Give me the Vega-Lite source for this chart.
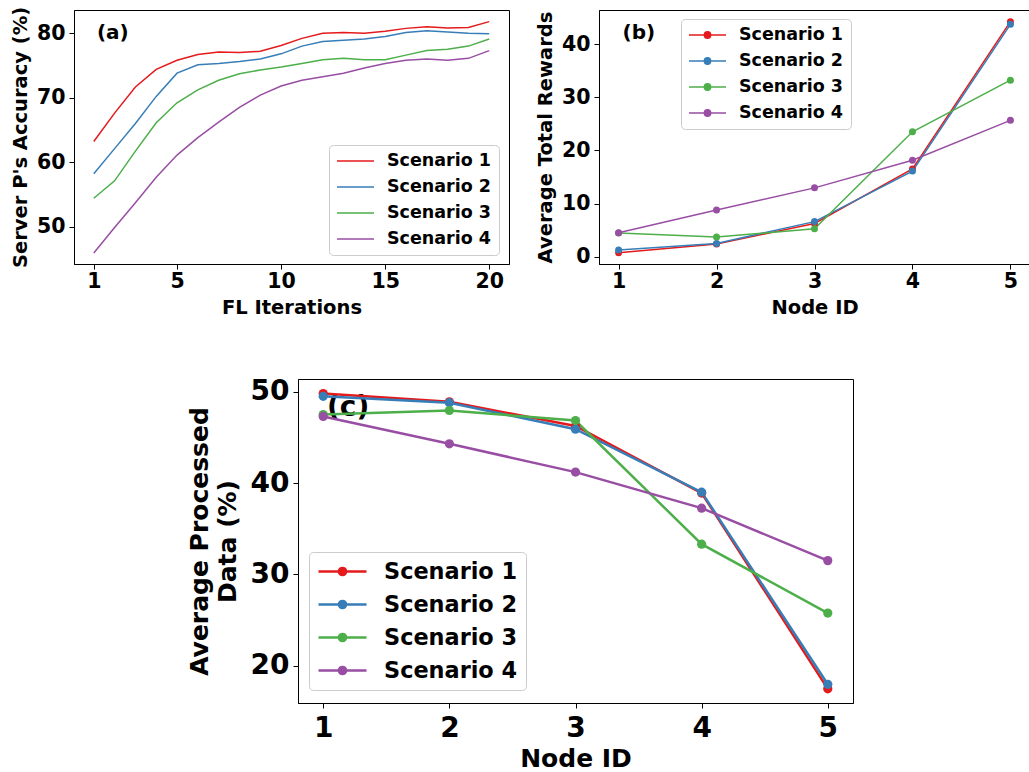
{
  "$schema": "https://vega.github.io/schema/vega-lite/v6.json",
  "background": "white",
  "padding": {"left": 9, "top": 5, "right": 0, "bottom": 0},
  "config": {
    "font": "DejaVu Sans",
    "view": {"stroke": "black", "strokeWidth": 1},
    "axis": {"domainColor": "black", "tickColor": "black", "labelColor": "black", "titleColor": "black", "labelFont": "DejaVu Sans", "titleFont": "DejaVu Sans", "labelFontWeight": "bold", "titleFontWeight": "bold", "grid": false, "tickSize": 5, "labelPadding": 4, "domainWidth": 1, "tickWidth": 1, "labelFlush": false, "labelOverlap": false},
    "axisX": {"labelPadding": 2},
    "legend": {"labelFont": "DejaVu Sans", "labelFontWeight": "bold", "labelColor": "black", "fillColor": "white", "strokeColor": "#cccccc", "cornerRadius": 4, "title": null}
  },
  "datasets": {
    "acc": [
      {"iteration": 1, "scenario": "Scenario 1", "accuracy": 63.2},
      {"iteration": 2, "scenario": "Scenario 1", "accuracy": 67.6},
      {"iteration": 3, "scenario": "Scenario 1", "accuracy": 71.65},
      {"iteration": 4, "scenario": "Scenario 1", "accuracy": 74.4},
      {"iteration": 5, "scenario": "Scenario 1", "accuracy": 75.8},
      {"iteration": 6, "scenario": "Scenario 1", "accuracy": 76.7},
      {"iteration": 7, "scenario": "Scenario 1", "accuracy": 77.1},
      {"iteration": 8, "scenario": "Scenario 1", "accuracy": 77.0},
      {"iteration": 9, "scenario": "Scenario 1", "accuracy": 77.2},
      {"iteration": 10, "scenario": "Scenario 1", "accuracy": 78.1},
      {"iteration": 11, "scenario": "Scenario 1", "accuracy": 79.2},
      {"iteration": 12, "scenario": "Scenario 1", "accuracy": 80.0},
      {"iteration": 13, "scenario": "Scenario 1", "accuracy": 80.1},
      {"iteration": 14, "scenario": "Scenario 1", "accuracy": 80.0},
      {"iteration": 15, "scenario": "Scenario 1", "accuracy": 80.3},
      {"iteration": 16, "scenario": "Scenario 1", "accuracy": 80.75},
      {"iteration": 17, "scenario": "Scenario 1", "accuracy": 81.0},
      {"iteration": 18, "scenario": "Scenario 1", "accuracy": 80.8},
      {"iteration": 19, "scenario": "Scenario 1", "accuracy": 80.9},
      {"iteration": 20, "scenario": "Scenario 1", "accuracy": 81.8},
      {"iteration": 1, "scenario": "Scenario 2", "accuracy": 58.2},
      {"iteration": 2, "scenario": "Scenario 2", "accuracy": 62.1},
      {"iteration": 3, "scenario": "Scenario 2", "accuracy": 66.0},
      {"iteration": 4, "scenario": "Scenario 2", "accuracy": 70.2},
      {"iteration": 5, "scenario": "Scenario 2", "accuracy": 73.8},
      {"iteration": 6, "scenario": "Scenario 2", "accuracy": 75.1},
      {"iteration": 7, "scenario": "Scenario 2", "accuracy": 75.3},
      {"iteration": 8, "scenario": "Scenario 2", "accuracy": 75.6},
      {"iteration": 9, "scenario": "Scenario 2", "accuracy": 76.0},
      {"iteration": 10, "scenario": "Scenario 2", "accuracy": 76.8},
      {"iteration": 11, "scenario": "Scenario 2", "accuracy": 78.0},
      {"iteration": 12, "scenario": "Scenario 2", "accuracy": 78.7},
      {"iteration": 13, "scenario": "Scenario 2", "accuracy": 78.9},
      {"iteration": 14, "scenario": "Scenario 2", "accuracy": 79.1},
      {"iteration": 15, "scenario": "Scenario 2", "accuracy": 79.5},
      {"iteration": 16, "scenario": "Scenario 2", "accuracy": 80.1},
      {"iteration": 17, "scenario": "Scenario 2", "accuracy": 80.4},
      {"iteration": 18, "scenario": "Scenario 2", "accuracy": 80.2},
      {"iteration": 19, "scenario": "Scenario 2", "accuracy": 80.0},
      {"iteration": 20, "scenario": "Scenario 2", "accuracy": 79.9},
      {"iteration": 1, "scenario": "Scenario 3", "accuracy": 54.4},
      {"iteration": 2, "scenario": "Scenario 3", "accuracy": 57.1},
      {"iteration": 3, "scenario": "Scenario 3", "accuracy": 61.7},
      {"iteration": 4, "scenario": "Scenario 3", "accuracy": 66.1},
      {"iteration": 5, "scenario": "Scenario 3", "accuracy": 69.2},
      {"iteration": 6, "scenario": "Scenario 3", "accuracy": 71.2},
      {"iteration": 7, "scenario": "Scenario 3", "accuracy": 72.7},
      {"iteration": 8, "scenario": "Scenario 3", "accuracy": 73.7},
      {"iteration": 9, "scenario": "Scenario 3", "accuracy": 74.3},
      {"iteration": 10, "scenario": "Scenario 3", "accuracy": 74.75},
      {"iteration": 11, "scenario": "Scenario 3", "accuracy": 75.3},
      {"iteration": 12, "scenario": "Scenario 3", "accuracy": 75.9},
      {"iteration": 13, "scenario": "Scenario 3", "accuracy": 76.1},
      {"iteration": 14, "scenario": "Scenario 3", "accuracy": 75.9},
      {"iteration": 15, "scenario": "Scenario 3", "accuracy": 75.9},
      {"iteration": 16, "scenario": "Scenario 3", "accuracy": 76.6},
      {"iteration": 17, "scenario": "Scenario 3", "accuracy": 77.3},
      {"iteration": 18, "scenario": "Scenario 3", "accuracy": 77.5},
      {"iteration": 19, "scenario": "Scenario 3", "accuracy": 78.0},
      {"iteration": 20, "scenario": "Scenario 3", "accuracy": 79.1},
      {"iteration": 1, "scenario": "Scenario 4", "accuracy": 45.9},
      {"iteration": 2, "scenario": "Scenario 4", "accuracy": 49.85},
      {"iteration": 3, "scenario": "Scenario 4", "accuracy": 53.7},
      {"iteration": 4, "scenario": "Scenario 4", "accuracy": 57.65},
      {"iteration": 5, "scenario": "Scenario 4", "accuracy": 61.1},
      {"iteration": 6, "scenario": "Scenario 4", "accuracy": 63.8},
      {"iteration": 7, "scenario": "Scenario 4", "accuracy": 66.2},
      {"iteration": 8, "scenario": "Scenario 4", "accuracy": 68.5},
      {"iteration": 9, "scenario": "Scenario 4", "accuracy": 70.4},
      {"iteration": 10, "scenario": "Scenario 4", "accuracy": 71.8},
      {"iteration": 11, "scenario": "Scenario 4", "accuracy": 72.7},
      {"iteration": 12, "scenario": "Scenario 4", "accuracy": 73.25},
      {"iteration": 13, "scenario": "Scenario 4", "accuracy": 73.8},
      {"iteration": 14, "scenario": "Scenario 4", "accuracy": 74.6},
      {"iteration": 15, "scenario": "Scenario 4", "accuracy": 75.3},
      {"iteration": 16, "scenario": "Scenario 4", "accuracy": 75.8},
      {"iteration": 17, "scenario": "Scenario 4", "accuracy": 76.0},
      {"iteration": 18, "scenario": "Scenario 4", "accuracy": 75.8},
      {"iteration": 19, "scenario": "Scenario 4", "accuracy": 76.1},
      {"iteration": 20, "scenario": "Scenario 4", "accuracy": 77.3}
    ],
    "rew": [
      {"node": 1, "scenario": "Scenario 1", "reward": 0.75},
      {"node": 2, "scenario": "Scenario 1", "reward": 2.4},
      {"node": 3, "scenario": "Scenario 1", "reward": 6.25},
      {"node": 4, "scenario": "Scenario 1", "reward": 16.5},
      {"node": 5, "scenario": "Scenario 1", "reward": 44.2},
      {"node": 1, "scenario": "Scenario 2", "reward": 1.25},
      {"node": 2, "scenario": "Scenario 2", "reward": 2.5},
      {"node": 3, "scenario": "Scenario 2", "reward": 6.6},
      {"node": 4, "scenario": "Scenario 2", "reward": 16.1},
      {"node": 5, "scenario": "Scenario 2", "reward": 43.7},
      {"node": 1, "scenario": "Scenario 3", "reward": 4.45},
      {"node": 2, "scenario": "Scenario 3", "reward": 3.7},
      {"node": 3, "scenario": "Scenario 3", "reward": 5.25},
      {"node": 4, "scenario": "Scenario 3", "reward": 23.5},
      {"node": 5, "scenario": "Scenario 3", "reward": 33.2},
      {"node": 1, "scenario": "Scenario 4", "reward": 4.5},
      {"node": 2, "scenario": "Scenario 4", "reward": 8.8},
      {"node": 3, "scenario": "Scenario 4", "reward": 12.95},
      {"node": 4, "scenario": "Scenario 4", "reward": 18.15},
      {"node": 5, "scenario": "Scenario 4", "reward": 25.65}
    ],
    "proc": [
      {"node": 1, "scenario": "Scenario 1", "processed": 49.8},
      {"node": 2, "scenario": "Scenario 1", "processed": 48.9},
      {"node": 3, "scenario": "Scenario 1", "processed": 46.25},
      {"node": 4, "scenario": "Scenario 1", "processed": 38.9},
      {"node": 5, "scenario": "Scenario 1", "processed": 17.45},
      {"node": 1, "scenario": "Scenario 2", "processed": 49.5},
      {"node": 2, "scenario": "Scenario 2", "processed": 48.8},
      {"node": 3, "scenario": "Scenario 2", "processed": 45.9},
      {"node": 4, "scenario": "Scenario 2", "processed": 39.0},
      {"node": 5, "scenario": "Scenario 2", "processed": 17.95},
      {"node": 1, "scenario": "Scenario 3", "processed": 47.5},
      {"node": 2, "scenario": "Scenario 3", "processed": 47.95},
      {"node": 3, "scenario": "Scenario 3", "processed": 46.85},
      {"node": 4, "scenario": "Scenario 3", "processed": 33.3},
      {"node": 5, "scenario": "Scenario 3", "processed": 25.75},
      {"node": 1, "scenario": "Scenario 4", "processed": 47.3},
      {"node": 2, "scenario": "Scenario 4", "processed": 44.3},
      {"node": 3, "scenario": "Scenario 4", "processed": 41.2},
      {"node": 4, "scenario": "Scenario 4", "processed": 37.25},
      {"node": 5, "scenario": "Scenario 4", "processed": 31.5}
    ]
  },
  "spacing": 59,
  "resolve": {"scale": {"color": "independent"}, "legend": {"color": "independent"}},
  "vconcat": [
    {
      "spacing": 24,
      "resolve": {"scale": {"color": "independent"}, "legend": {"color": "independent"}},
      "hconcat": [
        {
          "width": 435,
          "height": 254,
          "layer": [
            {
              "data": {"name": "acc"},
              "mark": {"type": "line", "strokeWidth": 1.5},
              "encoding": {
                "x": {"field": "iteration", "type": "quantitative", "scale": {"domain": [0.05, 20.95], "nice": false, "zero": false}, "axis": {"values": [1, 5, 10, 15, 20], "title": "FL Iterations", "labelFontSize": 20.5, "titleFontSize": 19.5, "titlePadding": 7}},
                "y": {"field": "accuracy", "type": "quantitative", "scale": {"domain": [44.2, 83.6], "nice": false, "zero": false}, "axis": {"values": [50, 60, 70, 80], "title": "Server P's Accuracy (%)", "labelFontSize": 20.5, "titleFontSize": 19.5, "titlePadding": 6}},
                "color": {"field": "scenario", "type": "nominal", "scale": {"domain": ["Scenario 1", "Scenario 2", "Scenario 3", "Scenario 4"], "range": ["#e41a1c", "#377eb8", "#4daf4a", "#984ea3"]},
                  "legend": {"orient": "none", "legendX": 255, "legendY": 135, "symbolType": "stroke", "symbolSize": 1369, "symbolStrokeWidth": 1.5, "clipHeight": 18, "rowPadding": 8, "labelFontSize": 17.5, "labelOffset": 12, "padding": 7}}
              }
            },
            {
              "data": {"values": [{"label": "(a)"}]},
              "mark": {"type": "text", "font": "DejaVu Sans", "fontWeight": "bold", "fontSize": 20, "align": "left", "baseline": "middle", "color": "black"},
              "encoding": {"x": {"datum": 1.15, "type": "quantitative"}, "y": {"datum": 80, "type": "quantitative"}, "text": {"field": "label"}}
            }
          ]
        },
        {
          "width": 431,
          "height": 254,
          "layer": [
            {
              "data": {"name": "rew"},
              "mark": {"type": "line", "strokeWidth": 1.5, "point": {"filled": true, "size": 49, "opacity": 1}},
              "encoding": {
                "x": {"field": "node", "type": "quantitative", "scale": {"domain": [0.8, 5.2], "nice": false, "zero": false}, "axis": {"values": [1, 2, 3, 4, 5], "format": "d", "title": "Node ID", "labelFontSize": 20.5, "titleFontSize": 19.5, "titlePadding": 7}},
                "y": {"field": "reward", "type": "quantitative", "scale": {"domain": [-1.37, 46.4], "nice": false, "zero": false}, "axis": {"values": [0, 10, 20, 30, 40], "title": "Average Total Rewards", "labelFontSize": 20.5, "titleFontSize": 19.5, "titlePadding": 6}},
                "color": {"field": "scenario", "type": "nominal", "scale": {"domain": ["Scenario 1", "Scenario 2", "Scenario 3", "Scenario 4"], "range": ["#e41a1c", "#377eb8", "#4daf4a", "#984ea3"]},
                  "legend": {"orient": "none", "legendX": 82, "legendY": 9, "symbolType": "M-1,0H1M-0.17,0A0.17,0.17 0 1,0 0.17,0A0.17,0.17 0 1,0 -0.17,0Z", "symbolSize": 1369, "symbolStrokeWidth": 1.5, "clipHeight": 18, "rowPadding": 8, "labelFontSize": 17.5, "labelOffset": 12, "padding": 7,
                    "encode": {"symbols": {"update": {"fill": {"signal": "datum.value === 'Scenario 1' ? '#e41a1c' : datum.value === 'Scenario 2' ? '#377eb8' : datum.value === 'Scenario 3' ? '#4daf4a' : '#984ea3'"}, "stroke": {"signal": "datum.value === 'Scenario 1' ? '#e41a1c' : datum.value === 'Scenario 2' ? '#377eb8' : datum.value === 'Scenario 3' ? '#4daf4a' : '#984ea3'"}, "opacity": {"value": 1}}}}}}
              }
            },
            {
              "data": {"values": [{"label": "(b)"}]},
              "mark": {"type": "text", "font": "DejaVu Sans", "fontWeight": "bold", "fontSize": 20, "align": "left", "baseline": "middle", "color": "black"},
              "encoding": {"x": {"datum": 1.04, "type": "quantitative"}, "y": {"datum": 42.1, "type": "quantitative"}, "text": {"field": "label"}}
            }
          ]
        }
      ]
    },
    {
      "spacing": 0,
      "resolve": {"scale": {"color": "independent"}, "legend": {"color": "independent"}},
      "hconcat": [
        {
          "width": 112,
          "height": 10,
          "view": {"stroke": null},
          "data": {"values": []},
          "mark": "point"
        },
        {
          "width": 555,
          "height": 324,
          "layer": [
            {
              "data": {"values": [{"label": "(c)"}]},
              "mark": {"type": "text", "font": "DejaVu Sans", "fontWeight": "bold", "fontSize": 28, "align": "left", "baseline": "middle", "color": "black"},
              "encoding": {"x": {"datum": 1.03, "type": "quantitative"}, "y": {"datum": 48.2, "type": "quantitative"}, "text": {"field": "label"}}
            },
            {
              "data": {"name": "proc"},
              "mark": {"type": "line", "strokeWidth": 2.5, "point": {"filled": true, "size": 85, "opacity": 1}},
              "encoding": {
                "x": {"field": "node", "type": "quantitative", "scale": {"domain": [0.8, 5.2], "nice": false, "zero": false}, "axis": {"values": [1, 2, 3, 4, 5], "format": "d", "title": "Node ID", "labelFontSize": 28, "titleFontSize": 25, "labelPadding": 6, "titlePadding": 4}},
                "y": {"field": "processed", "type": "quantitative", "scale": {"domain": [15.9, 51.4], "nice": false, "zero": false}, "axis": {"values": [20, 30, 40, 50], "title": ["Average Processed", "Data (%)"], "labelFontSize": 28, "titleFontSize": 25, "titleLineHeight": 28, "titlePadding": 10}},
                "color": {"field": "scenario", "type": "nominal", "scale": {"domain": ["Scenario 1", "Scenario 2", "Scenario 3", "Scenario 4"], "range": ["#e41a1c", "#377eb8", "#4daf4a", "#984ea3"]},
                  "legend": {"orient": "none", "legendX": 11, "legendY": 173, "symbolType": "M-1,0H1M-0.15,0A0.15,0.15 0 1,0 0.15,0A0.15,0.15 0 1,0 -0.15,0Z", "symbolSize": 2304, "symbolStrokeWidth": 2.5, "clipHeight": 23, "rowPadding": 10, "labelFontSize": 22.4, "labelOffset": 16, "padding": 8,
                    "encode": {"symbols": {"update": {"fill": {"signal": "datum.value === 'Scenario 1' ? '#e41a1c' : datum.value === 'Scenario 2' ? '#377eb8' : datum.value === 'Scenario 3' ? '#4daf4a' : '#984ea3'"}, "stroke": {"signal": "datum.value === 'Scenario 1' ? '#e41a1c' : datum.value === 'Scenario 2' ? '#377eb8' : datum.value === 'Scenario 3' ? '#4daf4a' : '#984ea3'"}, "opacity": {"value": 1}}}}}}
              }
            }
          ]
        }
      ]
    }
  ]
}
